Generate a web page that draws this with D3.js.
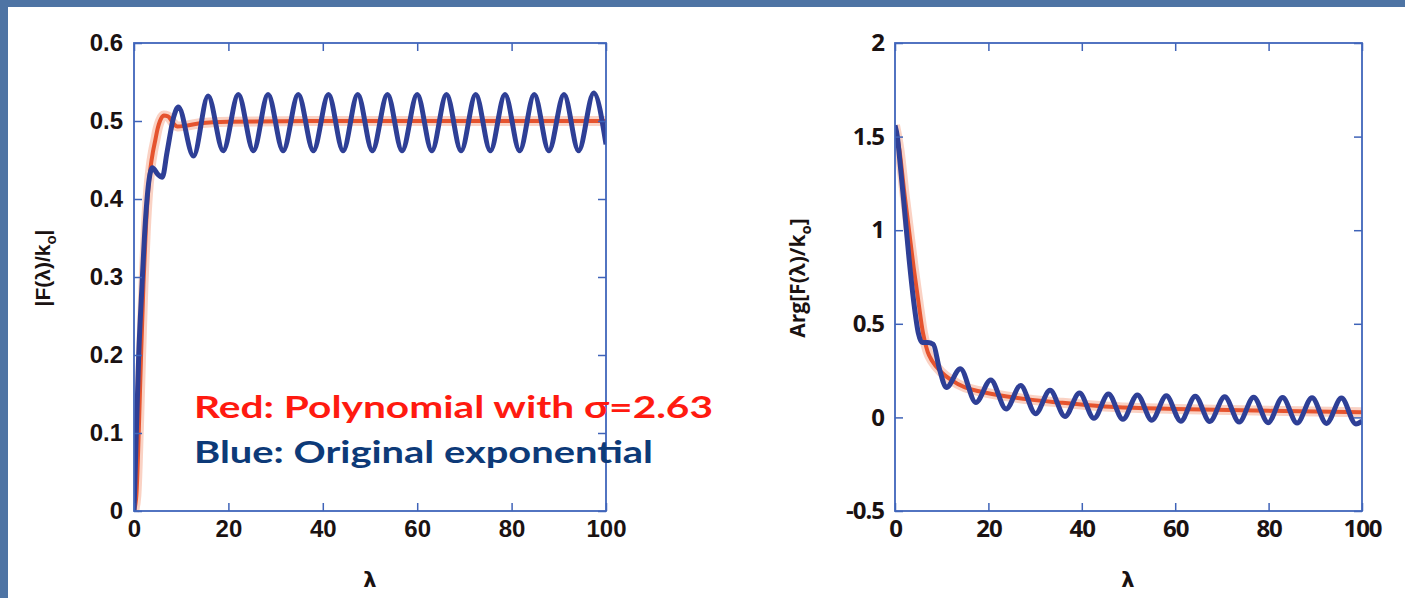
<!DOCTYPE html>
<html>
<head>
<meta charset="utf-8">
<script src="https://cdn.jsdelivr.net/npm/d3@7"></script>
<style>
  body { margin: 0; background: #4e74a4; }
  svg { display: block; }
  .tick text { font-weight: bold; fill: #1a1212; }
  .left .tick text { font-family: "Liberation Sans", Arial, sans-serif; font-size: 24px; }
  .right .tick text { font-family: "Open Sans", "Liberation Sans", sans-serif; font-size: 24px; letter-spacing: -1px; }
  .tick line { stroke: #3f63b8; stroke-width: 1.5; }
  .domain { display: none; }
</style>
</head>
<body>
<script>
(function(){

  // tick values
  var lamTicks = [0, 20, 40, 60, 80, 100]
  var modTicks = [0, 0.1, 0.2, 0.3, 0.4, 0.5, 0.6]
  var argTicks = [-0.5, 0, 0.5, 1, 1.5, 2]

  // |F(λ)/k0| as [λ, value]
  var modRed = [[0,0],[0.5,0.02],[1,0.1],[1.5,0.2],[2,0.29],[2.5,0.36],[3,0.41],[3.5,0.44],
    [4,0.46],[4.5,0.475],[5,0.49],[5.5,0.5],[6.3,0.507],[7.2,0.506],[8.2,0.498],[9.2,0.493],
    [11,0.494],[14,0.497],[20,0.499],[40,0.5],[100,0.5]]

  var modBlue = [[0,0],[0.3,0.06],[1,0.2],[1.7,0.29],[2.4,0.37],[3.2,0.425],[3.9,0.44],
    [5,0.432],[6,0.428],[7,0.46],[8.4,0.505],[9.4,0.518],[12.6,0.455],[15.7,0.532],
    [18.9,0.462],[22.1,0.534],[25.3,0.462],[28.4,0.534],[31.6,0.462],[34.8,0.534],
    [38,0.462],[41.2,0.534],[44.3,0.462],[47.4,0.534],[50.5,0.462],[53.7,0.534],
    [56.8,0.462],[60,0.534],[63.1,0.462],[66.2,0.534],[69.3,0.462],[72.4,0.534],
    [75.5,0.462],[78.6,0.534],[81.7,0.462],[84.8,0.534],[87.9,0.462],[91.1,0.534],
    [94.2,0.462],[97.4,0.536],[100,0.47]]

  // Arg[F(λ)/k0]
  var argRed = [[0,1.56],[1,1.42],[2,1.2],[3,1.0],[4,0.8],[5,0.62],[6,0.45],[7,0.35],
    [8,0.3],[10,0.24],[12,0.2],[15,0.16],[18,0.14],[22,0.12],[29,0.095],[35,0.08],
    [47,0.055],[60,0.045],[80,0.035],[100,0.028]]

  var argBlue = [[0,1.56],[0.5,1.5],[1,1.38],[2,1.12],[3,0.85],[4,0.62],[5,0.45],
    [5.8,0.4],[7,0.4],[8.2,0.39],[9.5,0.26],[11,0.16],[14,0.26],[17.3,0.08],[20.5,0.2],
    [23.8,0.045],[26.9,0.17],[30.1,0.02],[33.2,0.145],[36.4,0.005],[39.5,0.13],
    [42.6,-0.005],[45.7,0.125],[48.8,-0.01],[51.9,0.12],[55,-0.015],[58.1,0.115],
    [61.2,-0.02],[64.3,0.113],[67.4,-0.022],[70.6,0.11],[73.7,-0.025],[76.8,0.108],
    [79.9,-0.028],[83,0.106],[86.1,-0.03],[89.3,0.105],[92.4,-0.032],[95.6,0.103],
    [98.7,-0.035],[100,-0.02]]

  var W = 1405, H = 598
  var top = 43, bottom = 511

  var svg = d3.select('body').append('svg')
      .attr('width', W)
      .attr('height', H)

  svg.append('rect').attr('width', W).attr('height', H).attr('fill', '#4e74a4')
  svg.append('rect').attr('x', 8).attr('y', 7)
      .attr('width', W - 8).attr('height', H - 7).attr('fill', 'white')

  var fmt = function(d){ return String(d) }

  function panel(cls, x0, x1, yDomain, yTicks, series, yTitle, lamX) {
    var x = d3.scaleLinear().domain([0, 100]).range([x0, x1])
    var y = d3.scaleLinear().domain(yDomain).range([bottom, top])

    var g = svg.append('g').attr('class', cls)

    g.append('clipPath').attr('id', 'clip-' + cls)
      .append('rect').attr('x', x0).attr('y', top - 6)
      .attr('width', x1 - x0).attr('height', bottom - top + 10)

    var line = d3.line()
        .x(function(d){ return x(d[0]) })
        .y(function(d){ return y(d[1]) })
        .curve(d3.curveMonotoneX)

    var plot = g.append('g').attr('clip-path', 'url(#clip-' + cls + ')')

    // red with soft halo
    plot.append('path').attr('d', line(series.red))
        .attr('fill', 'none').attr('stroke', '#f6b49c').attr('stroke-width', 10)
        .attr('stroke-opacity', 0.6).attr('stroke-linejoin', 'round')
    plot.append('path').attr('d', line(series.red))
        .attr('fill', 'none').attr('stroke', '#e5532e').attr('stroke-width', 4)
        .attr('stroke-linejoin', 'round')
    plot.append('path').attr('d', line(series.blue))
        .attr('fill', 'none').attr('stroke', '#2e3f96').attr('stroke-width', 5)
        .attr('stroke-linejoin', 'round')

    g.append('g').attr('transform', 'translate(0,' + bottom + ')')
      .call(d3.axisBottom(x).tickValues(lamTicks).tickSize(-8).tickSizeOuter(0)
        .tickPadding(9).tickFormat(fmt))
    g.append('g').attr('transform', 'translate(0,' + top + ')')
      .call(d3.axisTop(x).tickValues(lamTicks).tickSize(-8).tickSizeOuter(0).tickFormat(''))
    g.append('g').attr('transform', 'translate(' + x0 + ',0)')
      .call(d3.axisLeft(y).tickValues(yTicks).tickSize(-8).tickSizeOuter(0)
        .tickPadding(11).tickFormat(fmt))
    g.append('g').attr('transform', 'translate(' + x1 + ',0)')
      .call(d3.axisRight(y).tickValues(yTicks).tickSize(-8).tickSizeOuter(0).tickFormat(''))

    g.append('rect').attr('x', x0).attr('y', top)
      .attr('width', x1 - x0).attr('height', bottom - top)
      .attr('fill', 'none').attr('stroke', '#4065bb').attr('stroke-width', 1.8)

    g.append('text')
      .attr('x', lamX).attr('y', 587)
      .attr('text-anchor', 'middle')
      .style('font-family', '"DejaVu Sans", sans-serif')
      .style('font-weight', 'bold').style('font-size', '21px').style('fill', '#1a1212')
      .text('λ')

    var t = g.append('text')
      .attr('transform', 'translate(' + yTitle.x + ',' + yTitle.y + ') rotate(-90)')
      .attr('text-anchor', 'middle')
      .style('font-family', yTitle.font)
      .style('font-weight', 'bold').style('font-size', '21px').style('fill', '#1a1212')
    t.append('tspan').text(yTitle.pre)
    t.append('tspan').attr('dy', 6).style('font-size', '15px').text('o')
    t.append('tspan').attr('dy', -6).text(yTitle.post)
  }

  panel('left', 134, 606, [0, 0.6], modTicks, { red: modRed, blue: modBlue },
    { x: 50, y: 268, pre: '|F(λ)/k', post: '|', font: '"Liberation Sans", Arial, sans-serif' }, 370)

  panel('right', 895, 1362, [-0.5, 2], argTicks, { red: argRed, blue: argBlue },
    { x: 805, y: 278, pre: 'Arg[F(λ)/k', post: ']', font: '"Open Sans", sans-serif' }, 1128)

  // legend text
  svg.append('text')
    .attr('x', 194).attr('y', 418)
    .attr('textLength', 519).attr('lengthAdjust', 'spacingAndGlyphs')
    .style('font-family', '"Comic Sans MS", Lato, sans-serif')
    .style('font-weight', 'bold').style('font-size', '31px').style('fill', '#ff1a10')
    .text('Red: Polynomial with σ=2.63')

  svg.append('text')
    .attr('x', 194).attr('y', 463)
    .attr('textLength', 459).attr('lengthAdjust', 'spacingAndGlyphs')
    .style('font-family', '"Comic Sans MS", Lato, sans-serif')
    .style('font-weight', 'bold').style('font-size', '31px').style('fill', '#0d3a78')
    .text('Blue: Original exponential')

})()
</script>
</body>
</html>
